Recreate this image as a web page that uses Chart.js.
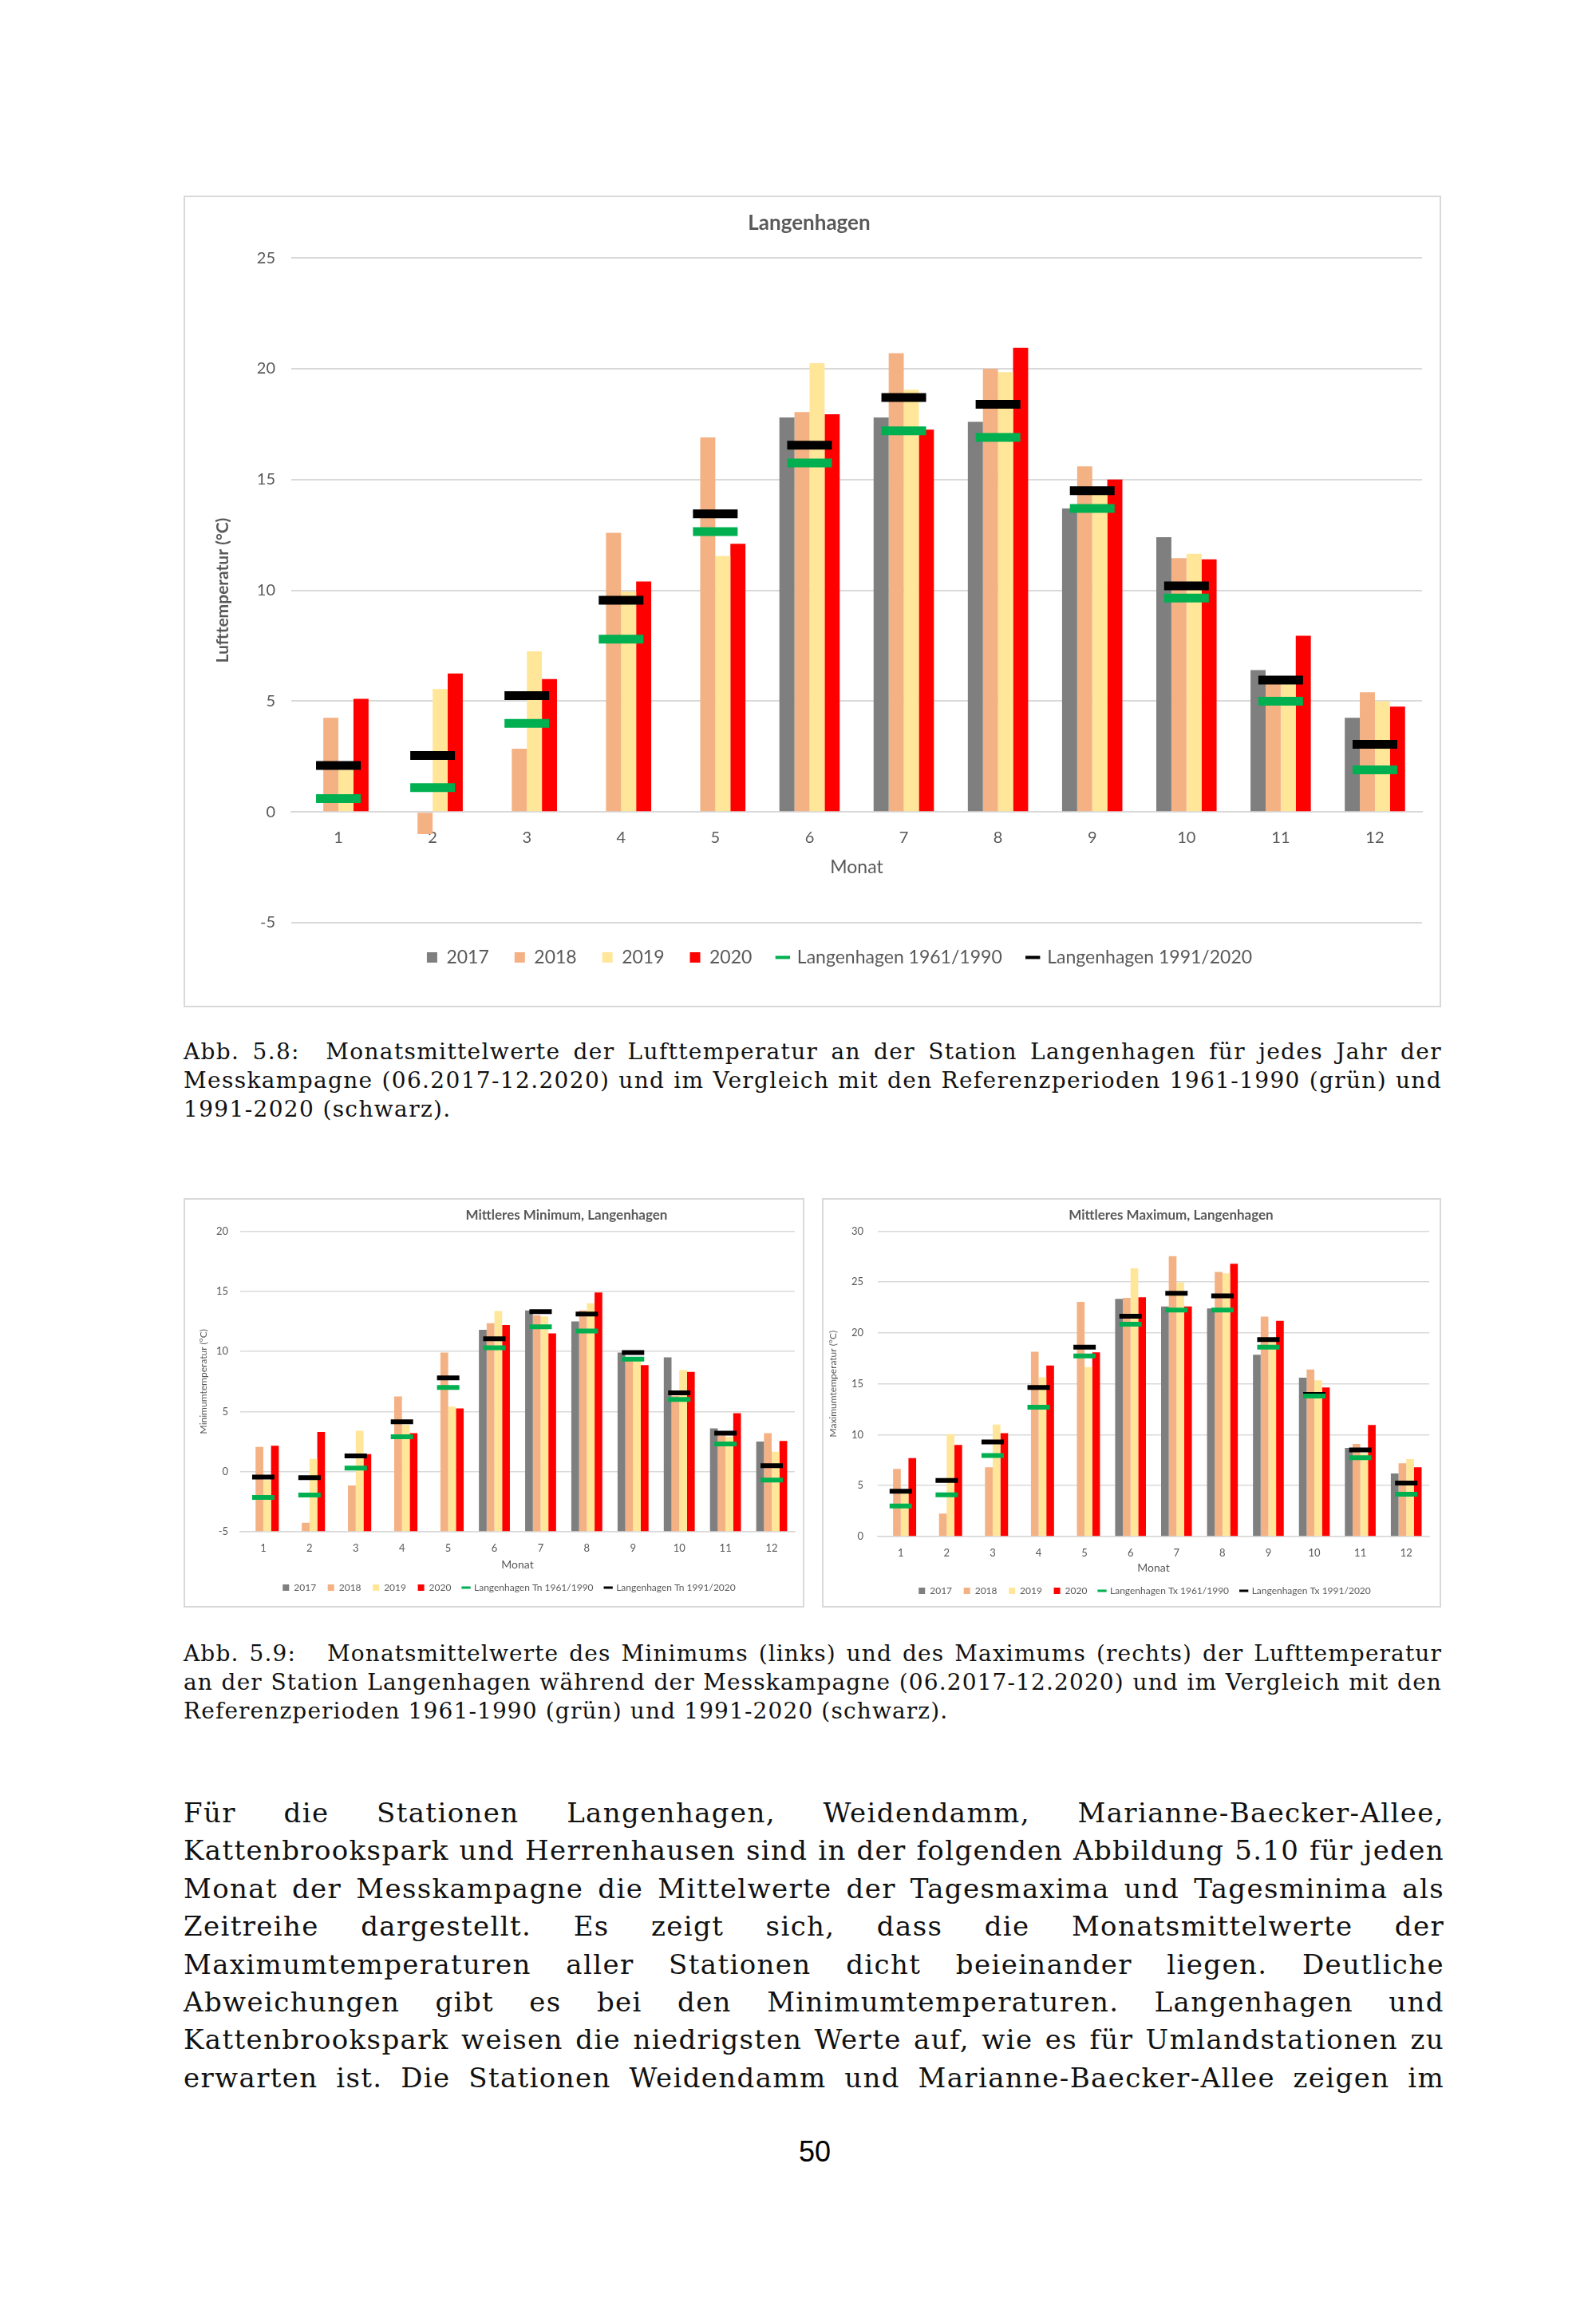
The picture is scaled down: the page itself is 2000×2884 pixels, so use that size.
<!DOCTYPE html>
<html lang="de">
<head>
<meta charset="utf-8">
<title>Langenhagen Lufttemperatur</title>
<script src="https://cdn.jsdelivr.net/npm/chart.js@4.4.1/dist/chart.umd.min.js"></script>
<style>
  html, body { margin: 0; padding: 0; background: #fff; }
  body { position: relative; width: 2000px; height: 2884px; overflow: hidden; }
  .box { position: absolute; outline: 2px solid #d9d9d9; outline-offset: -2px; background: #fff; }
  .box canvas { display: block; }
  .txt { position: absolute; left: 230px; font-family: "DejaVu Serif", serif; color: #111; }
  .txt div { white-space: nowrap; text-align: justify; text-align-last: justify; }
  .txt div.end { text-align-last: left; }
  #cap1 { top: 1300px; width: 1577px; font-size: 28px; line-height: 36px; }
  #cap2 { top: 2054px; width: 1577px; font-size: 28px; line-height: 36px; }
  #body { top: 2248px; width: 1580px; font-size: 34px; line-height: 47.4px; }
  #page { position: absolute; left: 0; width: 2042px; top: 2676px; text-align: center;
          font-family: "Liberation Sans", Arial, sans-serif; font-size: 36px; line-height: 40px; }
</style>
</head>
<body>

<div class="box" style="left:230px;top:245px;width:1576px;height:1017px"><canvas id="cMain"></canvas></div>

<div class="txt" id="cap1">
  <div>Abb. 5.8:&nbsp; Monatsmittelwerte der Lufttemperatur an der Station Langenhagen für jedes Jahr der</div>
  <div>Messkampagne (06.2017-12.2020) und im Vergleich mit den Referenzperioden 1961-1990 (grün) und</div>
  <div class="end">1991-2020 (schwarz).</div>
</div>

<div class="box" style="left:230px;top:1501px;width:778px;height:513px"><canvas id="cMin"></canvas></div>
<div class="box" style="left:1030px;top:1501px;width:776px;height:513px"><canvas id="cMax"></canvas></div>

<div class="txt" id="cap2">
  <div>Abb. 5.9:&nbsp;&nbsp; Monatsmittelwerte des Minimums (links) und des Maximums (rechts) der Lufttemperatur</div>
  <div>an der Station Langenhagen während der Messkampagne (06.2017-12.2020) und im Vergleich mit den</div>
  <div class="end">Referenzperioden 1961-1990 (grün) und 1991-2020 (schwarz).</div>
</div>

<div class="txt" id="body">
  <div>Für die Stationen Langenhagen, Weidendamm, Marianne-Baecker-Allee,</div>
  <div>Kattenbrookspark und Herrenhausen sind in der folgenden Abbildung 5.10 für jeden</div>
  <div>Monat der Messkampagne die Mittelwerte der Tagesmaxima und Tagesminima als</div>
  <div>Zeitreihe dargestellt. Es zeigt sich, dass die Monatsmittelwerte der</div>
  <div>Maximumtemperaturen aller Stationen dicht beieinander liegen. Deutliche</div>
  <div>Abweichungen gibt es bei den Minimumtemperaturen. Langenhagen und</div>
  <div>Kattenbrookspark weisen die niedrigsten Werte auf, wie es für Umlandstationen zu</div>
  <div>erwarten ist. Die Stationen Weidendamm und Marianne-Baecker-Allee zeigen im</div>
</div>

<div id="page">50</div>

<script>
const months = ['1', '2', '3', '4', '5', '6', '7', '8', '9', '10', '11', '12'];
const years = ['2017', '2018', '2019', '2020'];

// Monatsmittel Lufttemperatur (°C)
const mean2017 = [null, null, null, null, null, 17.8, 17.8, 17.6, 13.7, 12.4, 6.4, 4.25];
const mean2018 = [4.25, -1.0, 2.85, 12.6, 16.9, 18.05, 20.7, 20.0, 15.6, 11.45, 5.9, 5.4];
const mean2019 = [1.9, 5.55, 7.25, 9.95, 11.55, 20.25, 19.05, 19.85, 14.4, 11.65, 6.0, 5.0];
const mean2020 = [5.1, 6.25, 6.0, 10.4, 12.1, 17.95, 17.25, 20.95, 15.0, 11.4, 7.95, 4.75];
const mean6190 = [0.6, 1.1, 4.0, 7.8, 12.65, 15.75, 17.2, 16.9, 13.7, 9.65, 5.0, 1.9];
const mean9120 = [2.1, 2.55, 5.25, 9.55, 13.45, 16.55, 18.7, 18.4, 14.5, 10.2, 5.95, 3.05];

// mittleres Minimum (°C)
const min2017 = [null, null, null, null, null, 11.8, 13.4, 12.5, 9.9, 9.5, 3.6, 2.5];
const min2018 = [2.05, -4.25, -1.15, 6.25, 9.9, 12.35, 13.0, 13.4, 9.5, 6.3, 3.0, 3.2];
const min2019 = [-0.7, 1.05, 3.4, 3.9, 5.4, 13.35, 12.9, 14.0, 9.3, 8.45, 2.9, 1.65];
const min2020 = [2.15, 3.3, 1.45, 3.2, 5.25, 12.2, 11.5, 14.9, 8.85, 8.3, 4.85, 2.55];
const min6190 = [-2.15, -1.95, 0.3, 2.9, 7.0, 10.3, 12.05, 11.7, 9.35, 6.0, 2.3, -0.7];
const min9120 = [-0.45, -0.5, 1.3, 4.15, 7.8, 11.05, 13.3, 13.1, 9.9, 6.55, 3.2, 0.5];

// mittleres Maximum (°C)
const max2017 = [null, null, null, null, null, 23.35, 22.6, 22.4, 17.85, 15.6, 8.7, 6.2];
const max2018 = [6.65, 2.25, 6.8, 18.15, 23.05, 23.45, 27.55, 26.0, 21.6, 16.4, 9.1, 7.2];
const max2019 = [4.6, 10.05, 11.0, 15.65, 16.65, 26.35, 24.95, 25.85, 19.2, 15.35, 8.2, 7.6];
const max2020 = [7.7, 9.0, 10.15, 16.8, 18.1, 23.5, 22.6, 26.8, 21.2, 14.65, 10.95, 6.8];
const max6190 = [3.0, 4.1, 7.95, 12.7, 17.75, 20.85, 22.25, 22.25, 18.6, 13.8, 7.75, 4.15];
const max9120 = [4.45, 5.5, 9.3, 14.65, 18.6, 21.65, 23.9, 23.65, 19.35, 13.95, 8.5, 5.25];

const grey = '#595959';
Chart.defaults.font.family = 'Lato, "Open Sans", sans-serif';

// schiebt Titel und Legende horizontal (Excel-Charts sind nicht mittig)
const blockShift = {
  id: 'blockShift',
  afterLayout(chart, args, opts) {
    if (opts.titleDx && chart.titleBlock) {
      chart.titleBlock.left += opts.titleDx;
      chart.titleBlock.right += opts.titleDx;
    }
    if (opts.legendDx && chart.legend) {
      chart.legend.left += opts.legendDx;
      chart.legend.right += opts.legendDx;
    }
  }
};

function makeChart(id, s) {
  const yearCols = ['#7f7f7f', '#f4b183', '#ffe699', '#ff0000'];
  const datasets = s.bars.map((vals, i) => ({
    type: 'bar', label: years[i], data: vals, backgroundColor: yearCols[i],
    base: s.base, order: 2, categoryPercentage: s.group, barPercentage: 1
  }));
  s.refs.forEach((vals, i) => {
    const col = i === 0 ? '#00b050' : '#000000';
    datasets.push({
      type: 'line', label: s.refNames[i], data: vals, showLine: false, order: 1,
      borderColor: col, backgroundColor: col, pointStyle: 'line',
      pointRadius: s.markLen, pointHoverRadius: s.markLen,
      pointBorderWidth: s.markW, pointHoverBorderWidth: s.markW
    });
  });

  return new Chart(document.getElementById(id), {
    type: 'bar',
    data: { labels: months, datasets: datasets },
    plugins: [blockShift],
    options: {
      responsive: true,
      maintainAspectRatio: false,
      animation: false,
      events: [],
      layout: { padding: s.pad, autoPadding: false },
      plugins: {
        blockShift: { titleDx: s.titleDx, legendDx: s.legendDx },
        tooltip: { enabled: false },
        title: {
          display: true, text: s.title, color: grey,
          font: { size: s.titleSize, weight: 'bold' }, padding: s.titlePad
        },
        legend: {
          position: 'bottom',
          labels: {
            usePointStyle: true, boxWidth: s.legBox, boxHeight: s.legBox,
            padding: s.legPad, color: grey, font: { size: s.legSize },
            generateLabels: chart => chart.data.datasets.map((ds, i) => ({
              text: ds.label,
              fillStyle: ds.type === 'bar' ? ds.backgroundColor : 'rgba(0,0,0,0)',
              strokeStyle: ds.type === 'bar' ? ds.backgroundColor : ds.borderColor,
              lineWidth: ds.type === 'bar' ? 0 : s.legLine,
              pointStyle: ds.type === 'bar' ? 'rect' : 'line',
              fontColor: grey, hidden: false, datasetIndex: i
            }))
          }
        }
      },
      scales: {
        x: {
          position: s.xPos,
          grid: { display: false, drawTicks: false },
          border: { display: true, color: '#d9d9d9', width: s.gridW },
          ticks: { color: grey, font: { size: s.tickSize }, padding: s.xTickPad },
          title: {
            display: true, text: 'Monat', color: grey,
            font: { size: s.xTitleSize }, padding: { top: s.xTitlePad, bottom: 0 }
          }
        },
        y: {
          min: s.yMin, max: s.yMax,
          ticks: { stepSize: 5, color: grey, font: { size: s.tickSize }, padding: s.yTickPad },
          grid: { color: '#d9d9d9', lineWidth: s.gridW, drawTicks: false },
          border: { display: false },
          title: {
            display: true, text: s.yTitle, color: grey,
            font: { size: s.yTitleSize, weight: s.yTitleWeight }, padding: { top: s.yTitlePad, bottom: 0 }
          },
          afterFit: sc => { sc.width = s.yWidth; }
        }
      }
    }
  });
}

makeChart('cMain', {
  bars: [mean2017, mean2018, mean2019, mean2020], refs: [mean6190, mean9120],
  refNames: ['Langenhagen 1961/1990', 'Langenhagen 1991/2020'],
  title: 'Langenhagen', titleSize: 26, titlePad: { top: 19, bottom: 28 }, titleDx: 8, legendDx: 46,
  pad: { left: 0, right: 24, top: 0, bottom: 41 },
  legBox: 13, legPad: 32, legSize: 23, legLine: 4,
  xPos: { y: 0 }, base: 0, yMin: -5, yMax: 25, group: 0.64,
  tickSize: 20, xTickPad: 20, xTitleSize: 23, xTitlePad: -8,
  yTickPad: 20, yTitle: 'Lufttemperatur (°C)', yTitleSize: 21, yTitleWeight: 'bold', yTitlePad: 37, yWidth: 135,
  gridW: 2, markLen: 28, markW: 11
});

makeChart('cMin', {
  bars: [min2017, min2018, min2019, min2020], refs: [min6190, min9120],
  refNames: ['Langenhagen Tn 1961/1990', 'Langenhagen Tn 1991/2020'],
  title: 'Mittleres Minimum, Langenhagen', titleSize: 17, titlePad: { top: 11, bottom: 10 }, titleDx: 97, legendDx: 25,
  pad: { left: 0, right: 12, top: 0, bottom: 9 },
  legBox: 8, legPad: 14.6, legSize: 12, legLine: 3,
  xPos: 'bottom', base: -5, yMin: -5, yMax: 20, group: 0.67,
  tickSize: 13, xTickPad: 13, xTitleSize: 14, xTitlePad: -9,
  yTickPad: 15, yTitle: 'Minimumtemperatur (°C)', yTitleSize: 12, yTitleWeight: 'normal', yTitlePad: 18, yWidth: 71,
  gridW: 1.5, markLen: 14, markW: 6
});

makeChart('cMax', {
  bars: [max2017, max2018, max2019, max2020], refs: [max6190, max9120],
  refNames: ['Langenhagen Tx 1961/1990', 'Langenhagen Tx 1991/2020'],
  title: 'Mittleres Maximum, Langenhagen', titleSize: 17, titlePad: { top: 11, bottom: 10 }, titleDx: 57, legendDx: 24,
  pad: { left: 0, right: 15, top: 0, bottom: 5 },
  legBox: 8, legPad: 14.6, legSize: 12, legLine: 3,
  xPos: 'bottom', base: 0, yMin: 0, yMax: 30, group: 0.67,
  tickSize: 13, xTickPad: 13, xTitleSize: 14, xTitlePad: -11,
  yTickPad: 18, yTitle: 'Maximumtemperatur (°C)', yTitleSize: 12, yTitleWeight: 'normal', yTitlePad: 7, yWidth: 70,
  gridW: 1.5, markLen: 14, markW: 6
});

// Blocksatz: Buchstabenabstand so, dass die engste Zeile genau passt
function fitLines(boxId, target) {
  const box = document.getElementById(boxId);
  const lines = Array.from(box.querySelectorAll('div')).filter(d => !d.classList.contains('end'));
  const probe = document.createElement('span');
  probe.style.position = 'absolute';
  probe.style.visibility = 'hidden';
  probe.style.whiteSpace = 'nowrap';
  box.appendChild(probe);
  let ls = Infinity;
  lines.forEach(d => {
    probe.textContent = d.textContent.trim();
    const w = probe.getBoundingClientRect().width;
    ls = Math.min(ls, (target - w) / probe.textContent.length);
  });
  probe.remove();
  box.style.letterSpacing = ls.toFixed(3) + 'px';
}
fitLines('cap1', 1570);
fitLines('cap2', 1570);
fitLines('body', 1574);
</script>
</body>
</html>
